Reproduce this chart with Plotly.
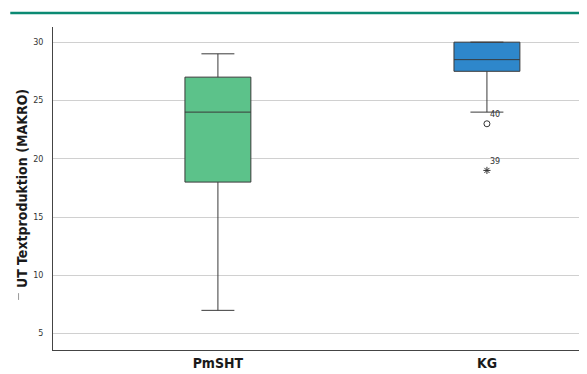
import plotly.graph_objects as go

groups = ["PmSHT", "KG"]
q1 = [18, 27.5]
median = [24, 28.5]
q3 = [27, 30]
lower_whisker = [7, 24]
upper_whisker = [29, 30]
fill_colors = ["#5cc28a", "#2e87cb"]

outlier_group = ["KG", "KG"]
outlier_values = [23, 19]
outlier_ids = ["40", "39"]
outlier_symbols = ["circle-open", "asterisk-open"]

yticks = [5, 10, 15, 20, 25, 30]

fig = go.Figure()
for i, g in enumerate(groups):
    fig.add_trace(go.Box(
        x=[g], q1=[q1[i]], median=[median[i]], q3=[q3[i]],
        lowerfence=[lower_whisker[i]], upperfence=[upper_whisker[i]],
        fillcolor=fill_colors[i], line=dict(color="#3a3a3a", width=1),
        width=0.245, whiskerwidth=0.5, boxpoints=False, showlegend=False,
        hoverinfo="skip",
    ))

fig.add_trace(go.Scatter(
    x=outlier_group, y=outlier_values, mode="markers",
    marker=dict(symbol=outlier_symbols, size=6, color="#333333",
                line=dict(color="#333333", width=1)),
    showlegend=False, hoverinfo="skip",
))

annotations = [
    dict(x=g, y=v, text=t, showarrow=False, xanchor="left", yanchor="middle",
         xshift=1, yshift=9, font=dict(size=8, color="#333333", family="DejaVu Sans"))
    for g, v, t in zip(outlier_group, outlier_values, outlier_ids)
]

fig.update_layout(
    width=579, height=366,
    margin=dict(l=45, r=0, t=19, b=24),
    paper_bgcolor="white", plot_bgcolor="white",
    font=dict(family="DejaVu Sans", color="#333333"),
    xaxis=dict(
        type="category", categoryorder="array", categoryarray=groups,
        range=[-0.613, 1.372], showgrid=False, zeroline=False,
        showline=True, linecolor="#444444", linewidth=1, automargin=False,
        ticks="", tickfont=dict(family="DejaVu Sans Condensed", size=14, color="#1a1a1a"),
        ticklabelstandoff=0,
    ),
    yaxis=dict(
        range=[3.6, 31.3], tickvals=yticks, ticks="",
        tickfont=dict(family="DejaVu Sans", size=8, color="#333333"),
        showgrid=True, gridcolor="#d0d0d0", gridwidth=1, zeroline=False,
        showline=True, linecolor="#444444", linewidth=1,
        title=dict(text="<b>UT Textproduktion (MAKRO)</b>", standoff=2,
                   font=dict(family="DejaVu Sans Condensed", size=14, color="#1a1a1a")),
        ticklabelstandoff=7,
    ),
    annotations=annotations,
    shapes=[
        dict(type="line", xref="paper", yref="paper", x0=-0.08, x1=1.0,
             y0=1.043, y1=1.043, line=dict(color="#0b8a73", width=2.5)),
        dict(type="line", xref="paper", yref="paper", x0=-0.0645, x1=-0.0645,
             y0=0.155, y1=0.176, line=dict(color="#9a9a9a", width=1)),
    ],
)
fig.update_xaxes(tickprefix="<b>", ticksuffix="</b>")

fig.write_html("out.html")
